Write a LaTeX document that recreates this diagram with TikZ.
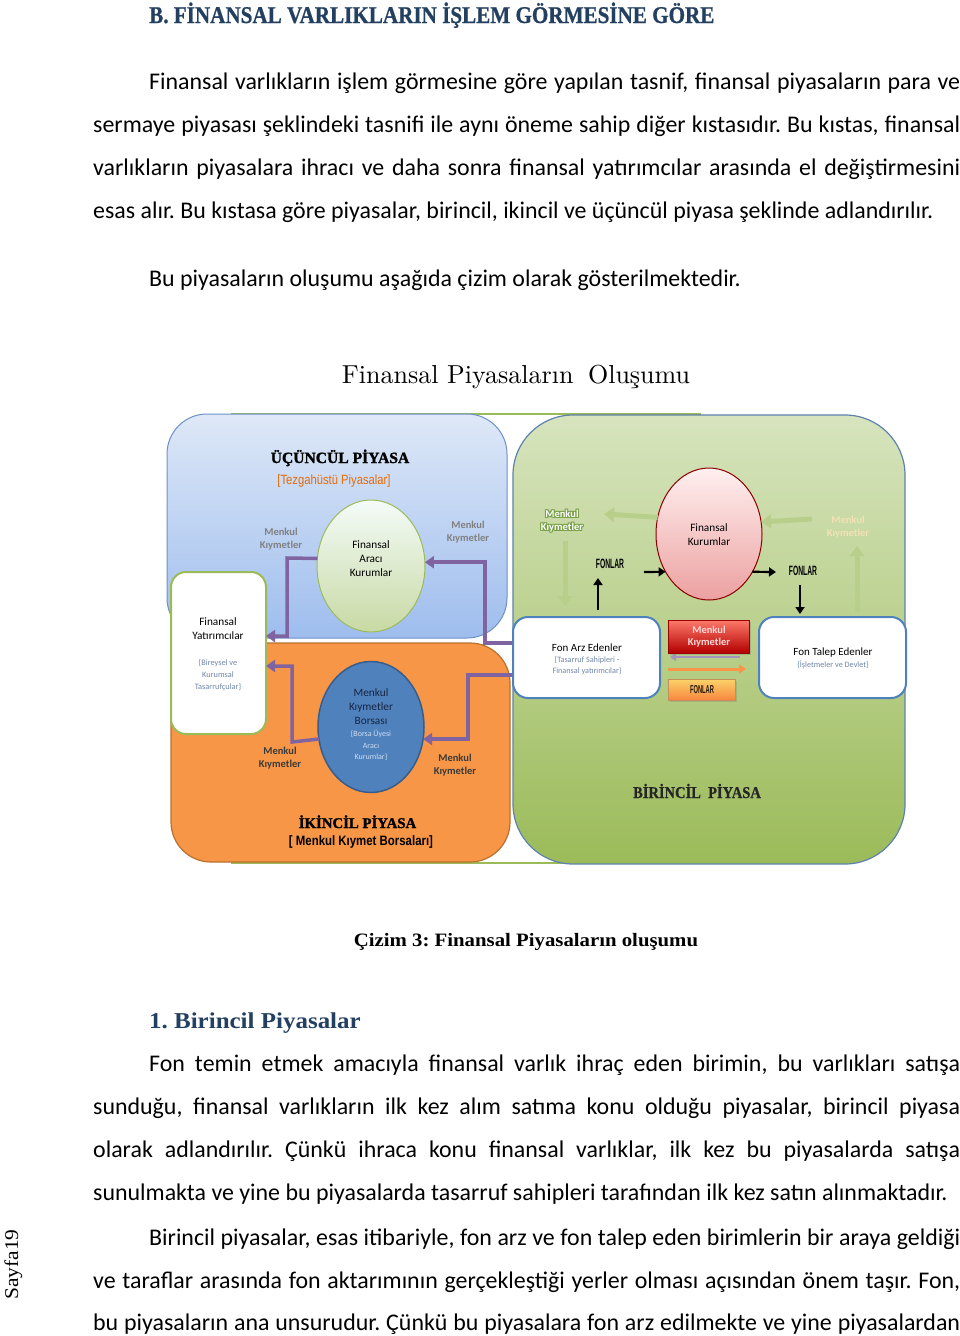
\documentclass[tikz,border=0pt]{standalone}
\usepackage{fontspec}
\setmainfont{Carlito}
\newfontfamily\camfont[FakeStretch=1.1]{Liberation Serif}
\newfontfamily\camcaps[FakeStretch=0.88,FakeBold=0.8]{Liberation Serif}
\newfontfamily\heavyfont[FakeBold=1.5]{Liberation Serif}
\newfontfamily\narrowfont[FakeStretch=0.84]{Liberation Sans}
\newfontfamily\fonfont[FakeStretch=0.5]{Liberation Sans}
\newfontfamily\lmfont{lmroman10-regular.otf}
\usetikzlibrary{shapes.geometric,arrows.meta,shadows}

\newcommand\fsz[2]{\fontsize{#1}{#2}\selectfont}
\newcommand\bodyfs{\fsz{23.9}{43}}
\frenchspacing

\begin{document}
\begin{tikzpicture}[x=1pt,y=-1pt,
  txtline/.style={anchor=base west,inner sep=0pt,font=\bodyfs},
  lbl/.style={align=center,inner sep=0pt,font=\fsz{11.3}{14}},
  mk/.style={align=center,inner sep=0pt,font=\fsz{10.5}{13}\bfseries},
  sub/.style={align=center,inner sep=0pt,font=\fsz{8.3}{12},text=kSub},
  pyhead/.style={anchor=base,inner sep=0pt,font=\heavyfont\bfseries\fsz{15.6}{16}},
  box/.style={rectangle,inner sep=0pt,outer sep=0pt},
  oval/.style={ellipse,inner sep=0pt,outer sep=0pt,minimum width=106pt,minimum height=131pt},
  parrow/.style={draw=kPurple,line width=3.5pt,-{Triangle[length=9pt,width=12pt]}},
  garrow/.style={draw=kLGreen,line width=5pt,-{Triangle[length=10pt,width=14pt]}},
  barrow/.style={draw=black,line width=2.2pt,-{Triangle[length=7pt,width=9pt]}},
  fonlar/.style={inner sep=0pt,font=\fonfont\bfseries\fsz{13.5}{14}}
]
  \definecolor{kHead}{RGB}{36,64,97}
  \definecolor{kBTop}{RGB}{222,232,247}
  \definecolor{kBBot}{RGB}{158,189,238}
  \definecolor{kBLine}{RGB}{110,145,200}
  \definecolor{kGTop}{RGB}{215,228,190}
  \definecolor{kGMid}{RGB}{168,196,112}
  \definecolor{kGreen}{RGB}{155,187,89}
  \definecolor{kGLine}{RGB}{95,130,175}
  \definecolor{kOrange}{RGB}{247,150,70}
  \definecolor{kOLine}{RGB}{185,113,47}
  \definecolor{kBlue}{RGB}{79,129,189}
  \definecolor{kBlueD}{RGB}{56,93,138}
  \definecolor{kPurple}{RGB}{128,100,162}
  \definecolor{kLGreen}{RGB}{183,207,138}
  \definecolor{kGlow}{RGB}{120,160,70}
  \definecolor{kCream}{RGB}{242,226,182}
  \definecolor{kLbl}{RGB}{128,128,128}
  \definecolor{kDark}{RGB}{58,58,58}
  \definecolor{kSub}{RGB}{111,135,168}
  \definecolor{kNavy}{RGB}{23,37,64}
  \definecolor{kPale}{RGB}{205,220,240}
  \definecolor{kTez}{RGB}{228,108,10}
  \definecolor{kPink}{RGB}{236,160,160}

  \useasboundingbox (0,0) rectangle (960,1336);
  \fill[white] (0,0) rectangle (960,1336);

  % page text
  \node[anchor=base west,inner sep=0pt,text=kHead,font=\camcaps\bfseries\fsz{24}{24}]
    (bhead) at (149,23) {B. FİNANSAL VARLIKLARIN İŞLEM GÖRMESİNE GÖRE};
  \foreach \nm/\yy/\xx/\ww/\jj/\txt in {
    pa1/89/149/811/s/{Finansal varlıkların işlem görmesine göre yapılan tasnif, finansal piyasaların para ve},
    pa2/132/93/867/s/{sermaye piyasası şeklindeki tasnifi ile aynı öneme sahip diğer kıstasıdır. Bu kıstas, finansal},
    pa3/175/93/867/s/{varlıkların piyasalara ihracı ve daha sonra finansal yatırımcılar arasında el değiştirmesini},
    pa4/218/93/867/l/{esas alır. Bu kıstasa göre piyasalar, birincil, ikincil ve üçüncül piyasa şeklinde adlandırılır.},
    pb1/286/149/811/l/{Bu piyasaların oluşumu aşağıda çizim olarak gösterilmektedir.},
    pc1/1071/149/811/s/{Fon temin etmek amacıyla finansal varlık ihraç eden birimin, bu varlıkları satışa},
    pc2/1114/93/867/s/{sunduğu, finansal varlıkların ilk kez alım satıma konu olduğu piyasalar, birincil piyasa},
    pc3/1157/93/867/s/{olarak adlandırılır. Çünkü ihraca konu finansal varlıklar, ilk kez bu piyasalarda satışa},
    pc4/1200/93/867/l/{sunulmakta ve yine bu piyasalarda tasarruf sahipleri tarafından ilk kez satın alınmaktadır.},
    pd1/1245/149/811/s/{Birincil piyasalar, esas itibariyle, fon arz ve fon talep eden birimlerin bir araya geldiği},
    pd2/1288/93/867/s/{ve taraflar arasında fon aktarımının gerçekleştiği yerler olması açısından önem taşır. Fon,},
    pd3/1330/93/867/s/{bu piyasaların ana unsurudur. Çünkü bu piyasalara fon arz edilmekte ve yine piyasalardan}}
  {
    \node[txtline] (\nm) at (\xx,\yy) {\makebox[\ww pt][\jj]{\txt}};
  }
  \node[anchor=base,inner sep=0pt,font=\lmfont\fsz{26}{26}] (title) at (516,383)
    {Finansal Piyasaların\hspace{6pt} Oluşumu};
  \node[anchor=base,inner sep=0pt,font=\camfont\bfseries\fsz{18.9}{19}] (caption) at (526,946)
    {Çizim 3: Finansal Piyasaların oluşumu};
  \node[anchor=base west,inner sep=0pt,text=kHead,font=\camfont\bfseries\fsz{22.7}{23}]
    (h1) at (149,1028) {1. Birincil Piyasalar};
  \node[anchor=base west,rotate=90,inner sep=0pt,font=\camfont\fsz{19.5}{20}] (sayfa) at (18,1300) {Sayfa19};

  % market areas
  \draw[kGreen,line width=1.2pt] (232,414) rectangle (700,863);
  \node[box,draw=kGLine,line width=1.2pt,rounded corners=60pt,top color=kGTop,middle color=kGMid,
    bottom color=kGreen,minimum width=392pt,minimum height=449pt] (bir) at (709,639.5) {};
  \node[box,draw=kBLine,line width=1pt,rounded corners=40pt,top color=kBTop,bottom color=kBBot,
    minimum width=340pt,minimum height=224pt] (ucu) at (337,526) {};
  \node[box,draw=kOLine,line width=1.2pt,rounded corners=40pt,fill=kOrange,
    minimum width=339pt,minimum height=219pt] (iki) at (340.5,752.5) {};
  \node[box,draw=kGreen,line width=2pt,rounded corners=15pt,fill=white,
    minimum width=95pt,minimum height=162pt] (yat) at (218.5,653) {};

  \node[pyhead] (ucut) at (340,463) {ÜÇÜNCÜL PİYASA};
  \node[anchor=base,inner sep=0pt,text=kTez,font=\narrowfont\fsz{13.4}{14}] (tez) at (334,484)
    {[Tezgahüstü Piyasalar]};
  \node[pyhead,font=\heavyfont\bfseries\fsz{14.8}{15}] (ikit) at (357.5,828) {İKİNCİL PİYASA};
  \node[anchor=base,inner sep=0pt,font=\narrowfont\bfseries\fsz{13.6}{14}] (bors) at (361,845)
    {[ Menkul Kıymet Borsaları]};
  \node[anchor=base,inner sep=0pt,text=black!85,font=\camcaps\bfseries\fsz{16.5}{17}] (birt) at (697,798)
    {BİRİNCİL\ \ PİYASA};

  \node[lbl] (yatt) at (218,629) {Finansal\\Yatırımcılar};
  \node[sub] (yats) at (218,675) {\{Bireysel ve\\Kurumsal\\Tasarrufçular\}};

  % ellipses
  \node[oval,draw=kGreen,line width=1pt,top color=green!10!kBTop!20!white,bottom color=kGreen!55!white,
    minimum width=108pt,minimum height=132pt] (fak) at (371,566) {};
  \node[lbl] (fakt) at (371,559) {Finansal\\Aracı\\Kurumlar};
  \node[oval,draw=kBlueD,line width=1.5pt,fill=kBlue] (mkb) at (371,727) {};
  \node[lbl,text=kNavy,font=\fsz{11.3}{14}] (mkbt) at (371,707) {Menkul\\Kıymetler\\Borsası};
  \node[sub,text=kPale,font=\fsz{8}{11.5}] (mkbs) at (371,745.5) {\{Borsa Üyesi\\Aracı\\Kurumlar\}};
  \node[oval,draw=red!55!black,line width=1pt,top color=red!6!white,bottom color=kPink,
    minimum height=132pt] (fk) at (709,534) {};
  \node[lbl] (fkt) at (709,534.5) {Finansal\\Kurumlar};

  % securities labels
  \node[mk,text=kLbl] (mk1) at (281,539) {Menkul\\Kıymetler};
  \node[mk,text=kLbl] (mk2) at (468,532) {Menkul\\Kıymetler};
  \node[mk,text=kDark] (mk3) at (280,758.5) {Menkul\\Kıymetler};
  \node[mk,text=kDark] (mk4) at (455,765) {Menkul\\Kıymetler};
  \foreach \dx/\dy in {-1/0,1/0,0/-1,0/1,-1/-1,1/1,-1/1,1/-1}
    \node[mk,text=kGlow] (glw\dx\dy) at (562+\dx,521.5+\dy) {Menkul\\Kıymetler};
  \node[mk,text=white] (mk5) at (562,521.5) {Menkul\\Kıymetler};
  \node[mk,text=kCream] (mk6) at (848,527) {Menkul\\Kıymetler};

  % purple flows
  \draw[parrow] (fak.172) -- (287,558) |- (yat.east |- 0,636);
  \draw[parrow] (bir.west |- 0,643) -- (485,643) |- (fak.4);
  \draw[parrow] (mkb.193) -- (292,742) |- (yat.east |- 0,666);
  \draw[parrow] (bir.west |- 0,675) -- (468,675) |- (mkb.347);

  % supply and demand
  \node[box,draw=kBlue,line width=2pt,rounded corners=15pt,fill=white,
    minimum width=147pt,minimum height=81pt] (arz) at (586.5,657.5) {};
  \node[box,draw=kBlue,line width=2pt,rounded corners=15pt,fill=white,
    minimum width=147pt,minimum height=81pt] (tal) at (832.5,657.5) {};
  \node[lbl,font=\fsz{11}{12}] (arzt) at (587,648) {Fon Arz Edenler};
  \node[sub,font=\fsz{8.2}{11}] (arzs) at (587,665.5) {\{Tasarruf Sahipleri -\\Finansal yatırımcılar\}};
  \node[lbl,font=\fsz{11}{12}] (talt) at (833,653) {Fon Talep Edenler};
  \node[sub,font=\fsz{8.2}{11}] (tals) at (833,665) {\{İşletmeler ve Devlet\}};

  \coordinate (pu1) at (740,657); \coordinate (pu2) at (670,657);
  \coordinate (ou1) at (668,669); \coordinate (ou2) at (746,669);
  \draw[draw=kPurple!70,line width=2.5pt,-{Triangle[length=6pt,width=8pt]}] (pu1) -- (pu2);
  \node[box,draw=red!60!black,line width=0.8pt,top color=red!55!white!80!kOrange,bottom color=red!70!black,
    minimum width=81pt,minimum height=33pt,drop shadow={opacity=0.35,shadow xshift=1.5pt,shadow yshift=-2pt}]
    (mkr) at (708.5,636.5) {};
  \node[mk,text=red!15!white,font=\fsz{10.5}{12}\bfseries] (mkrt) at (709,637) {Menkul\\Kıymetler};
  \draw[draw=kOrange,line width=3pt,-{Triangle[length=7pt,width=9pt]}] (ou1) -- (ou2);
  \node[box,draw=kOLine!80,line width=0.6pt,top color=kOrange!60!yellow!70!white,bottom color=kOrange!90!red,
    minimum width=67pt,minimum height=21pt,drop shadow={opacity=0.3,shadow xshift=1.5pt,shadow yshift=-2pt}]
    (fon) at (701.5,689.5) {};
  \node[fonlar,text=black!80!brown,font=\fonfont\bfseries\fsz{11.5}{12}] (font) at (702,690) {FONLAR};

  % green flows
  \coordinate (gl1) at (604,514); \coordinate (gr1) at (812,519);
  \coordinate (gd1) at (565,541); \coordinate (gd2) at (565,606);
  \coordinate (gu1) at (857,612); \coordinate (gu2) at (857,546);
  \draw[garrow] (fk.162) -- (gl1);
  \draw[garrow] (gr1) -- (fk.13);
  \draw[garrow] (gd1) -- (gd2);
  \draw[garrow] (gu1) -- (gu2);

  % funds
  \node[fonlar] (fon1) at (610,564) {FONLAR};
  \node[fonlar] (fon2) at (803,571) {FONLAR};
  \coordinate (fu1) at (598,610); \coordinate (fu2) at (598,578);
  \coordinate (fr1) at (644,572); \coordinate (fr2) at (776,572);
  \coordinate (fd1) at (800,585); \coordinate (fd2) at (800,614);
  \draw[barrow] (fu1) -- (fu2);
  \draw[barrow] (fr1) -- (fk.221);
  \draw[barrow] (fk.319) -- (fr2);
  \draw[barrow] (fd1) -- (fd2);
\end{tikzpicture}
\end{document}
